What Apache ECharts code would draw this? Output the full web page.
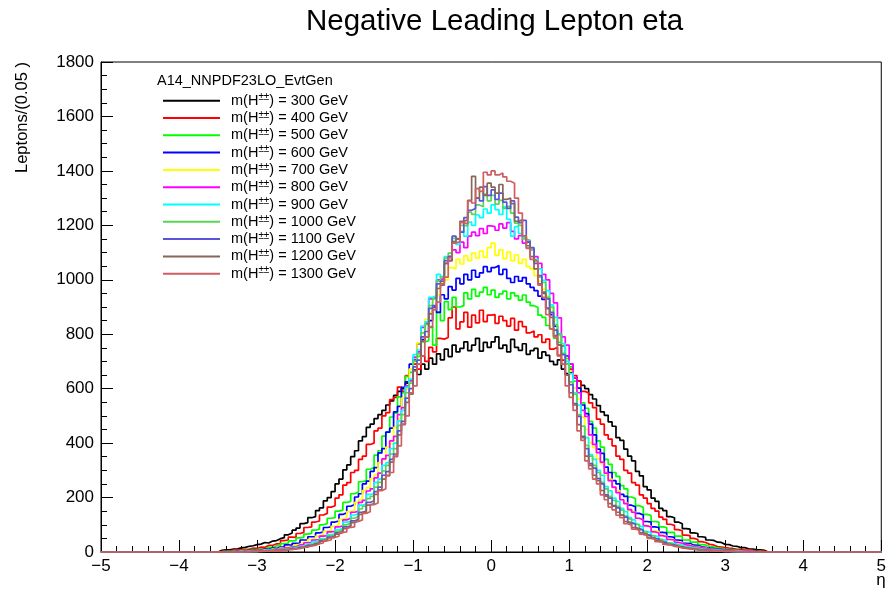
<!DOCTYPE html>
<html>
<head>
<meta charset="utf-8">
<script src="https://cdn.jsdelivr.net/npm/echarts@6/dist/echarts.min.js"></script>
<style>
  html, body { margin: 0; padding: 0; background: #fff; }
  #chart { width: 889px; height: 594px; }
</style>
</head>
<body>
<div id="chart"></div>
<script>
// Histogram binning: 200 bins of 0.05 from -5 to 5; filled bins cover -3.5 .. 3.5
const etaMin = -5, etaMax = 5, binWidth = 0.05;
const filledStart = -3.5;

const masses = [300, 400, 500, 600, 700, 800, 900, 1000, 1100, 1200, 1300];
const colors = ['#000000', '#ff0000', '#00ff00', '#0000ff', '#ffff00', '#ff00ff',
                '#00ffff', '#59d454', '#5954d9', '#876657', '#cf5e61'];

const yTicks = [0, 200, 400, 600, 800, 1000, 1200, 1400, 1600, 1800];
const xTicks = [-5, -4, -3, -2, -1, 0, 1, 2, 3, 4, 5];

// Leptons per 0.05 bin, from eta = -3.5 to 3.5 (140 bins each)
const h300 = [
  6, 8, 8, 11, 12, 15, 17, 21, 23, 27, 29, 35, 33, 40, 42, 49, 53, 63, 70, 80,
  88, 104, 108, 126, 130, 152, 162, 188, 200, 222, 250, 268, 302, 320, 350, 372, 408, 424, 458, 470,
  490, 505, 520, 540, 555, 575, 590, 600, 620, 630, 668, 652, 690, 672, 712, 690, 728, 706, 745, 718,
  760, 735, 748, 772, 740, 760, 785, 738, 770, 752,
  772, 790, 748, 760, 735, 781, 752, 741, 765, 726, 740, 748, 712, 735, 722, 700, 688, 706, 672, 655,
  662, 640, 628, 612, 600, 578, 562, 538, 515, 502, 478, 462, 420, 410, 378, 352, 335, 296, 280, 240,
  228, 198, 186, 160, 152, 130, 126, 110, 104, 86, 84, 70, 68, 56, 54, 44, 43, 36, 35, 28,
  27, 22, 21, 16, 16, 12, 11, 9, 8, 6
];
const h400 = [
  2, 5, 4, 7, 6, 9, 10, 10, 14, 13, 18, 17, 24, 24, 30, 31, 42, 44, 55, 54,
  68, 72, 90, 92, 110, 114, 136, 142, 165, 170, 198, 210, 246, 255, 292, 300, 340, 352, 395, 400,
  445, 455, 500, 512, 560, 568, 606, 590, 648, 630, 690, 672, 720, 700, 752, 735, 785, 782, 788, 860,
  900, 820, 845, 880, 826, 870, 842, 888, 846, 870,
  872, 840, 866, 850, 830, 858, 815, 846, 828, 805, 812, 790, 798, 770, 782, 745, 752, 722, 705, 690,
  672, 648, 628, 590, 585, 548, 530, 488, 470, 430, 415, 390, 352, 340, 300, 290, 255, 246, 210, 198,
  178, 160, 150, 128, 120, 102, 98, 82, 78, 62, 60, 50, 46, 38, 35, 28, 26, 20, 18, 16,
  14, 13, 10, 10, 8, 7, 5, 5, 3, 3
];
const h500 = [
  1, 3, 2, 4, 3, 5, 6, 6, 9, 8, 12, 12, 17, 16, 23, 22, 31, 32, 41, 42,
  52, 54, 66, 68, 80, 84, 100, 104, 124, 126, 150, 154, 182, 186, 214, 220, 258, 262, 304, 310,
  356, 372, 426, 440, 496, 510, 570, 585, 645, 660, 715, 722, 772, 776, 828, 760, 880, 850, 920, 890,
  935, 900, 905, 952, 930, 965, 940, 955, 972, 945,
  962, 935, 948, 958, 930, 952, 941, 925, 944, 918, 905, 898, 870, 862, 832, 820, 786, 770, 728, 710,
  680, 628, 602, 548, 528, 480, 455, 408, 385, 340, 322, 292, 278, 244, 232, 202, 196, 170, 164, 138,
  134, 112, 110, 92, 90, 72, 72, 58, 58, 44, 45, 36, 36, 27, 26, 20, 19, 14, 14, 10,
  10, 7, 7, 4, 5, 3, 3, 2, 2, 1
];
const h600 = [
  0, 2, 1, 3, 2, 4, 3, 6, 5, 8, 7, 11, 10, 14, 13, 18, 18, 26, 24, 32,
  33, 44, 44, 56, 56, 70, 74, 90, 92, 110, 114, 138, 144, 168, 174, 202, 214, 250, 260, 296,
  310, 364, 380, 440, 455, 515, 535, 605, 625, 690, 705, 765, 780, 840, 850, 900, 880, 945, 930, 975,
  962, 1005, 985, 1020, 1000, 1035, 1010, 1025, 1048, 1030,
  1045, 1052, 1020, 1038, 1005, 990, 1012, 995, 1008, 985, 972, 960, 940, 928, 895, 872, 830, 800, 758, 720,
  690, 640, 602, 540, 508, 470, 430, 378, 362, 312, 292, 262, 250, 212, 204, 172, 166, 142, 136, 112,
  110, 92, 90, 72, 70, 56, 54, 44, 42, 32, 31, 25, 24, 19, 17, 13, 13, 10, 10, 7,
  7, 5, 5, 4, 3, 3, 2, 2, 1, 1
];
const h700 = [
  0, 1, 0, 2, 1, 3, 2, 4, 3, 6, 5, 8, 7, 11, 10, 14, 15, 20, 21, 26,
  28, 35, 38, 46, 48, 58, 64, 76, 80, 94, 100, 120, 126, 148, 154, 182, 192, 226, 236, 270,
  284, 328, 338, 385, 398, 458, 490, 565, 598, 672, 700, 768, 790, 855, 880, 935, 945, 990, 1000, 1045,
  1040, 1075, 1058, 1088, 1070, 1098, 1080, 1105, 1082, 1118,
  1135, 1090, 1110, 1078, 1102, 1070, 1092, 1060, 1075, 1048, 1040, 1015, 995, 965, 940, 895, 852, 795, 762, 705,
  665, 602, 562, 495, 450, 402, 384, 342, 325, 282, 268, 236, 226, 192, 180, 152, 146, 124, 118, 98,
  94, 78, 76, 62, 58, 46, 45, 36, 35, 27, 26, 20, 20, 15, 14, 10, 10, 8, 7, 5,
  5, 4, 4, 3, 2, 2, 2, 1, 1, 0
];
const h800 = [
  0, 1, 1, 0, 2, 1, 3, 2, 4, 3, 6, 5, 8, 7, 11, 10, 15, 14, 20, 19,
  26, 26, 34, 35, 44, 46, 58, 60, 74, 76, 92, 96, 118, 124, 146, 150, 182, 190, 224, 232,
  272, 290, 342, 355, 408, 425, 505, 530, 610, 630, 715, 735, 825, 840, 930, 935, 1000, 1005, 1060, 1070,
  1110, 1100, 1138, 1118, 1160, 1175, 1162, 1188, 1170, 1198,
  1195, 1182, 1205, 1190, 1210, 1178, 1150, 1162, 1135, 1140, 1112, 1085, 1060, 1020, 1000, 950, 915, 860, 790, 760,
  690, 640, 585, 520, 498, 430, 395, 365, 330, 290, 262, 238, 218, 192, 178, 156, 146, 124, 118, 96,
  92, 74, 70, 60, 56, 46, 44, 35, 32, 26, 24, 19, 18, 15, 13, 11, 10, 8, 7, 6,
  5, 4, 4, 3, 2, 2, 2, 1, 1, 0
];
const h900 = [
  0, 1, 0, 1, 1, 2, 1, 2, 3, 2, 4, 4, 7, 6, 9, 8, 12, 12, 16, 16,
  21, 22, 29, 29, 37, 38, 49, 50, 64, 66, 82, 86, 110, 112, 136, 140, 172, 176, 212, 214,
  256, 268, 318, 328, 380, 400, 482, 520, 605, 635, 725, 742, 830, 845, 935, 942, 1020, 1010, 1085, 1090,
  1140, 1130, 1178, 1160, 1212, 1200, 1238, 1228, 1260, 1245,
  1275, 1258, 1240, 1268, 1222, 1160, 1195, 1170, 1155, 1118, 1110, 1075, 1040, 998, 960, 908, 862, 800, 765, 700,
  655, 585, 540, 462, 420, 358, 340, 300, 282, 240, 225, 198, 186, 160, 148, 126, 118, 102, 94, 76,
  70, 60, 56, 46, 42, 34, 32, 27, 25, 20, 18, 15, 14, 11, 10, 8, 7, 6, 5, 4,
  3, 2, 2, 2, 1, 1, 1, 0, 1, 0
];
const h1000 = [
  0, 0, 1, 0, 1, 1, 2, 1, 3, 2, 4, 3, 6, 5, 8, 7, 11, 10, 15, 13,
  19, 19, 26, 27, 34, 35, 46, 48, 60, 62, 76, 82, 100, 106, 124, 130, 158, 168, 196, 204,
  238, 256, 298, 318, 360, 380, 465, 505, 585, 620, 700, 728, 805, 835, 905, 930, 995, 1012, 1080, 1098,
  1152, 1150, 1200, 1198, 1248, 1240, 1275, 1268, 1315, 1290,
  1310, 1278, 1292, 1262, 1270, 1245, 1208, 1200, 1150, 1145, 1110, 1068, 1010, 990, 935, 900, 835, 798, 730, 690,
  625, 580, 505, 462, 392, 352, 318, 292, 256, 232, 204, 190, 168, 154, 132, 122, 105, 98, 82, 74,
  62, 58, 48, 45, 35, 32, 28, 25, 20, 18, 14, 14, 11, 10, 8, 7, 6, 5, 4, 3,
  3, 2, 2, 1, 1, 1, 1, 0, 0, 0
];
const h1100 = [
  0, 0, 0, 1, 0, 1, 2, 1, 2, 2, 3, 3, 5, 4, 7, 6, 9, 9, 13, 12,
  17, 18, 24, 24, 30, 32, 42, 44, 55, 58, 70, 76, 92, 96, 114, 120, 146, 150, 182, 188,
  222, 238, 282, 295, 340, 360, 445, 480, 565, 600, 680, 705, 790, 810, 895, 905, 985, 995, 1070, 1085,
  1160, 1150, 1175, 1228, 1255, 1262, 1300, 1290, 1342, 1310,
  1330, 1295, 1318, 1285, 1262, 1290, 1230, 1210, 1218, 1140, 1118, 1060, 1015, 950, 930, 880, 815, 760, 725, 650,
  615, 545, 498, 425, 380, 325, 308, 270, 250, 210, 198, 170, 162, 136, 128, 108, 102, 86, 80, 64,
  60, 50, 48, 38, 35, 27, 26, 20, 19, 15, 13, 11, 10, 8, 7, 6, 5, 4, 3, 2,
  2, 2, 1, 1, 1, 1, 0, 0, 0, 0
];
const h1200 = [
  0, 0, 0, 0, 1, 0, 1, 1, 2, 1, 3, 2, 4, 3, 6, 5, 8, 8, 11, 11,
  15, 16, 21, 22, 28, 30, 39, 42, 52, 54, 66, 72, 86, 92, 108, 114, 138, 146, 172, 178,
  212, 228, 268, 282, 330, 350, 430, 468, 550, 580, 665, 690, 775, 790, 875, 890, 968, 980, 1060, 1070,
  1140, 1150, 1215, 1220, 1292, 1380, 1300, 1340, 1310, 1355,
  1340, 1318, 1350, 1295, 1300, 1280, 1215, 1220, 1160, 1125, 1085, 1040, 985, 955, 895, 862, 795, 760, 690, 650,
  585, 540, 468, 420, 352, 318, 282, 262, 226, 205, 178, 168, 146, 136, 112, 106, 90, 85, 70, 65,
  54, 50, 42, 38, 30, 27, 22, 21, 16, 14, 12, 10, 9, 7, 6, 5, 4, 3, 3, 2,
  2, 1, 1, 1, 1, 0, 0, 0, 0, 0
];
const h1300 = [
  0, 0, 0, 1, 0, 1, 0, 2, 1, 3, 2, 4, 3, 5, 4, 7, 6, 9, 9, 12,
  12, 17, 18, 23, 24, 31, 33, 42, 44, 54, 58, 72, 74, 90, 92, 112, 118, 142, 148, 174,
  180, 225, 232, 280, 292, 352, 390, 470, 500, 585, 610, 690, 720, 790, 825, 890, 918, 985, 1010, 1080,
  1135, 1140, 1210, 1205, 1290, 1282, 1335, 1325, 1395, 1385,
  1400, 1385, 1392, 1378, 1362, 1355, 1300, 1245, 1160, 1115, 1075, 1068, 980, 935, 872, 820, 790, 720, 690, 610,
  568, 520, 445, 410, 335, 305, 268, 250, 210, 192, 165, 155, 135, 126, 104, 98, 84, 80, 66, 61,
  50, 47, 38, 36, 28, 26, 21, 19, 15, 13, 11, 10, 8, 7, 6, 5, 4, 3, 3, 2,
  2, 2, 1, 1, 1, 0, 0, 0, 0, 0
];

const histograms = [h300, h400, h500, h600, h700, h800, h900, h1000, h1100, h1200, h1300];

// Turn bin contents into step-line points at bin low edges (plus the last high edge)
function histPoints(counts) {
  const nBins = Math.round((etaMax - etaMin) / binWidth);
  const offset = Math.round((filledStart - etaMin) / binWidth);
  const pts = [];
  let last = 0;
  for (let i = 0; i < nBins; i++) {
    const edge = Math.round((etaMin + i * binWidth) * 1000) / 1000;
    const j = i - offset;
    const v = (j >= 0 && j < counts.length) ? counts[j] : 0;
    pts.push([edge, v]);
    last = v;
  }
  pts.push([etaMax, last]);
  return pts;
}

const FONT = '"Liberation Sans", Arial, Helvetica, sans-serif';

const series = masses.map((m, k) => ({
  name: String(m),
  type: 'line',
  step: 'end',
  data: histPoints(histograms[k]),
  showSymbol: false,
  symbol: 'none',
  lineStyle: { color: colors[k], width: 1.7 },
  itemStyle: { color: colors[k] },
  animation: false,
  z: 2 + k
}));

const chart = echarts.init(document.getElementById('chart'));
chart.setOption({
  backgroundColor: '#ffffff',
  animation: false,
  title: {
    text: 'Negative Leading Lepton eta',
    left: 306,
    top: 7,
    padding: 0,
    textStyle: { fontFamily: FONT, fontSize: 29.5, fontWeight: 'normal', color: '#000' }
  },
  grid: {
    left: 101, right: 3, top: 62, bottom: 42,
    show: true, borderColor: '#000', borderWidth: 1, backgroundColor: 'transparent'
  },
  legend: {
    orient: 'vertical',
    left: 163,
    top: 92.7,
    padding: 0,
    itemWidth: 57,
    itemHeight: 2,
    itemGap: 1.8,
    icon: 'rect',
    selectedMode: false,
    data: masses.map(String),
    formatter: function (name) {
      return '{a|m(H}{s|\u00b1\u00b1}{a|) = ' + name + ' GeV}';
    },
    textStyle: {
      padding: [0, 0, 0, 6],
      rich: {
        a: { fontFamily: FONT, fontSize: 14.5, color: '#000', lineHeight: 16 },
        s: { fontFamily: FONT, fontSize: 10, color: '#000', lineHeight: 9, verticalAlign: 'top' }
      }
    }
  },
  xAxis: {
    type: 'value',
    min: etaMin, max: etaMax, interval: 1,
    axisLine: { show: true, onZero: false, lineStyle: { color: '#000', width: 1 } },
    axisTick: { show: true, inside: true, length: 12, lineStyle: { color: '#000' } },
    minorTick: { show: true, splitNumber: 5, length: 6, lineStyle: { color: '#000' } },
    splitLine: { show: false },
    axisLabel: {
      margin: 6,
      color: '#000', fontFamily: FONT, fontSize: 17,
      formatter: function (v) {
        const t = xTicks.indexOf(Math.round(v)) >= 0 ? Math.round(v) : v;
        return String(t).replace('-', '\u2212');
      }
    }
  },
  yAxis: {
    type: 'value',
    min: yTicks[0], max: yTicks[yTicks.length - 1], interval: 200,
    axisLine: { show: true, onZero: false, lineStyle: { color: '#000', width: 1 } },
    axisTick: { show: true, inside: true, length: 12, lineStyle: { color: '#000' } },
    minorTick: { show: true, splitNumber: 4, length: 6, lineStyle: { color: '#000' } },
    splitLine: { show: false },
    axisLabel: {
      margin: 7, color: '#000', fontFamily: FONT, fontSize: 17,
      formatter: function (v) { return String(v); }
    }
  },
  graphic: [
    {
      type: 'text', left: 157, top: 73, silent: true,
      style: { text: 'A14_NNPDF23LO_EvtGen', font: '14.5px ' + FONT, fill: '#000' }
    },
    {
      type: 'text', x: 22, y: 62, rotation: Math.PI / 2, silent: true,
      style: {
        text: 'Leptons/(0.05 )', font: '16.5px ' + FONT, fill: '#000',
        textAlign: 'right', textVerticalAlign: 'middle'
      }
    },
    {
      type: 'text', x: 881, y: 580, silent: true,
      style: { text: '\u03b7', font: '17px ' + FONT, fill: '#000', textAlign: 'center', textVerticalAlign: 'middle' }
    }
  ],
  series: series
});
</script>
</body>
</html>
